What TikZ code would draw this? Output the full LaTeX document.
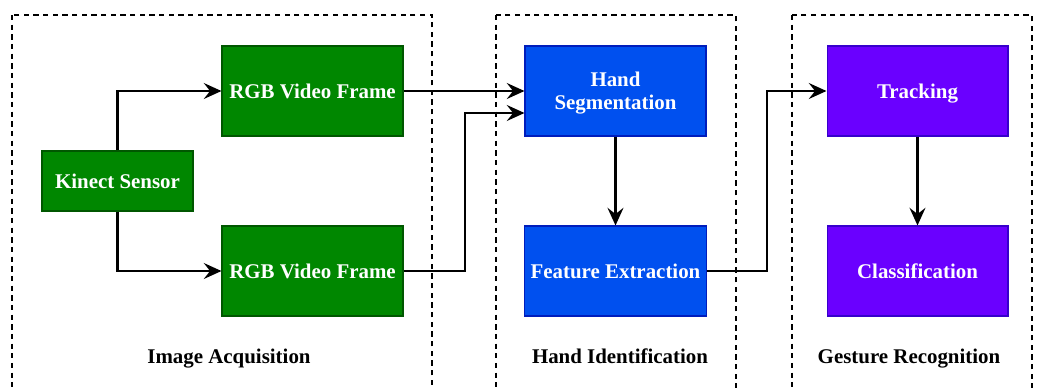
\documentclass[tikz,border=0pt]{standalone}
\usepackage{fontspec}
\setmainfont{Liberation Serif}
\usetikzlibrary{arrows.meta}

\begin{document}
\begin{tikzpicture}[x=0.02cm, y=-0.02cm,
    every node/.style={font=\fontsize{11.9}{13}\selectfont\bfseries},
    stage/.style={draw, text=white, align=center, minimum width=3.62cm, minimum height=1.8cm, line width=0.6pt, text depth=0pt},
    flow/.style={-{Stealth[length=10pt, width=9pt, inset=3.5pt]}, line width=1.6pt},
    group/.style={dash pattern=on 3pt off 2.5pt, line width=0.7pt},
    grouplabel/.style={anchor=base}]
% Define colors
\definecolor{kgreen}{RGB}{0,135,0}
\definecolor{kgreenline}{RGB}{0,87,0}
\definecolor{kblue}{RGB}{0,80,239}
\definecolor{kblueline}{RGB}{0,29,188}
\definecolor{kviolet}{RGB}{106,0,255}
\definecolor{kvioletline}{RGB}{55,0,204}

\useasboundingbox (0,0) rectangle (1038,387);

% Dashed groups (open at the bottom)
\begin{scope}
\clip (0,0) rectangle (1038,387);
\foreach \l/\r in {12/432, 496/736, 792/1032}
        \draw[group] (\l,15) rectangle (\r,420);
\end{scope}

% Stages
\node[stage, fill=kgreen, draw=kgreenline, minimum width=3.02cm, minimum height=1.2cm] (kinect) at (117.5,181) {Kinect Sensor};
\node[stage, fill=kgreen, draw=kgreenline] (rgbA) at (312.5,91) {RGB Video Frame};
\node[stage, fill=kgreen, draw=kgreenline] (rgbB) at (312.5,271) {RGB Video Frame};
\node[stage, fill=kblue, draw=kblueline] (handseg) at (615.5,91) {Hand\\Segmentation};
\node[stage, fill=kblue, draw=kblueline] (feature) at (615.5,271) {Feature Extraction};
\node[stage, fill=kviolet, draw=kvioletline] (track) at (917.5,91) {Tracking};
\node[stage, fill=kviolet, draw=kvioletline] (classif) at (917.5,271) {Classification};

% Group labels
\node[grouplabel] (lblA) at (229,363) {Image Acquisition};
\node[grouplabel] (lblB) at (620,363) {Hand Identification};
\node[grouplabel] (lblC) at (909,363) {Gesture Recognition};

% Connectors
\coordinate (bendB) at (465,271);
\coordinate (bendC) at (767,271);
\draw[flow] (kinect.north) |- (rgbA.west);
\draw[flow] (kinect.south) |- (rgbB.west);
\draw[flow] (rgbA.east) -- (handseg.west);
\draw[flow] (rgbB.east) -- (bendB) |- ([yshift=-0.44cm]handseg.west);
\draw[flow] (handseg) -- (feature);
\draw[flow] (feature.east) -- (bendC) |- (track.west);
\draw[flow] (track) -- (classif);
\end{tikzpicture}
\end{document}
